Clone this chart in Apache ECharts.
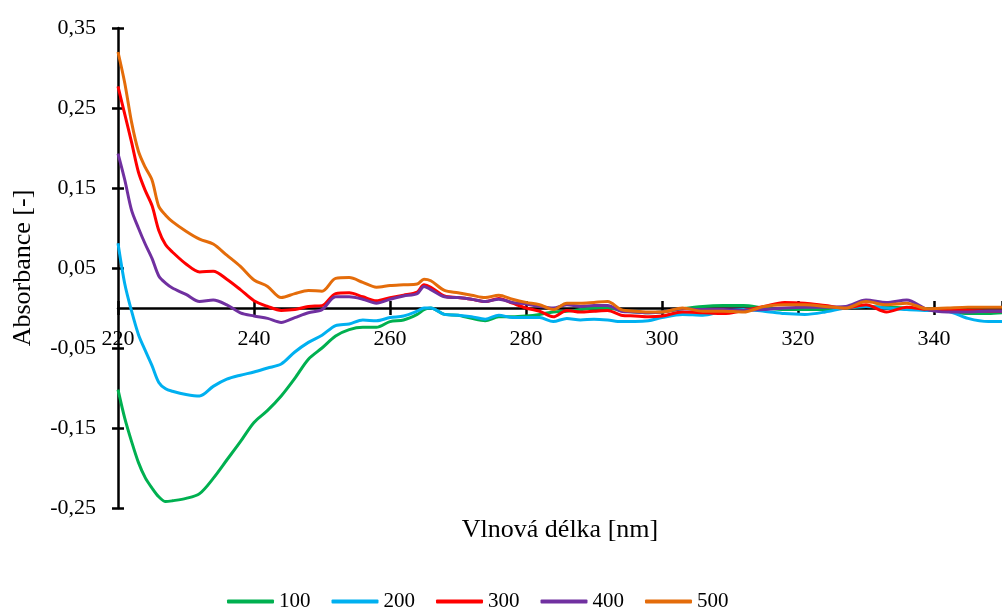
<!DOCTYPE html>
<html>
<head>
<meta charset="utf-8">
<script src="https://cdn.jsdelivr.net/npm/echarts@6/dist/echarts.min.js"></script>
<style>
html,body{margin:0;padding:0;background:#fff;}
#chart{width:1002px;height:610px;}
</style>
</head>
<body>
<div id="chart"></div>
<script>
const wavelengths = [220,221,222,223,224,225,226,227,228,230,232,234,236,238,240,242,244,246,248,250,252,254,256,258,260,262,264,265,266,268,270,272,274,276,278,280,282,284,286,288,290,292,294,296,298,300,303,306,309,312,315,318,321,324,327,330,333,336,339,342,345,348,350];

const s100 = [-0.102,-0.138,-0.167,-0.193,-0.212,-0.225,-0.236,-0.242,-0.241,-0.238,-0.232,-0.213,-0.190,-0.167,-0.143,-0.128,-0.110,-0.088,-0.064,-0.050,-0.035,-0.027,-0.024,-0.024,-0.017,-0.015,-0.008,-0.002,0.000,-0.008,-0.009,-0.013,-0.016,-0.011,-0.011,-0.010,-0.008,-0.005,-0.004,-0.002,0.000,0.000,-0.003,-0.005,-0.006,-0.005,-0.001,0.002,0.003,0.003,0.000,-0.002,-0.002,-0.002,0.000,0.002,0.001,0.000,-0.001,-0.004,-0.007,-0.007,-0.006];

const s200 = [0.081,0.030,-0.004,-0.033,-0.053,-0.072,-0.093,-0.101,-0.104,-0.108,-0.110,-0.098,-0.089,-0.084,-0.080,-0.075,-0.070,-0.055,-0.043,-0.034,-0.022,-0.020,-0.015,-0.016,-0.012,-0.010,-0.004,0.000,0.000,-0.008,-0.009,-0.011,-0.014,-0.009,-0.012,-0.012,-0.012,-0.017,-0.013,-0.015,-0.014,-0.015,-0.017,-0.017,-0.016,-0.012,-0.008,-0.009,-0.004,-0.002,-0.004,-0.007,-0.008,-0.005,0.000,0.002,0.000,-0.002,-0.003,-0.004,-0.013,-0.017,-0.017];

const s300 = [0.277,0.242,0.207,0.170,0.147,0.128,0.097,0.079,0.070,0.055,0.045,0.046,0.036,0.023,0.009,0.002,-0.003,-0.002,0.002,0.003,0.018,0.019,0.014,0.009,0.013,0.016,0.020,0.029,0.026,0.015,0.013,0.011,0.008,0.012,0.006,0.000,-0.004,-0.011,-0.003,-0.005,-0.004,-0.003,-0.009,-0.010,-0.011,-0.010,-0.005,-0.006,-0.007,-0.003,0.002,0.007,0.006,0.003,0.000,0.004,-0.005,0.001,-0.002,-0.003,-0.003,-0.004,-0.004];

const s400 = [0.193,0.160,0.122,0.100,0.080,0.062,0.040,0.031,0.025,0.017,0.008,0.010,0.004,-0.006,-0.010,-0.013,-0.018,-0.012,-0.006,-0.002,0.014,0.014,0.011,0.006,0.011,0.015,0.018,0.027,0.023,0.014,0.013,0.011,0.008,0.011,0.007,0.005,0.002,0.000,0.004,0.002,0.003,0.003,-0.004,-0.005,-0.006,-0.005,-0.001,-0.002,-0.002,-0.003,-0.002,0.000,0.001,0.001,0.002,0.010,0.007,0.010,-0.002,-0.005,-0.005,-0.004,-0.004];

const s500 = [0.320,0.281,0.232,0.196,0.176,0.160,0.127,0.116,0.108,0.096,0.086,0.080,0.066,0.052,0.035,0.027,0.013,0.018,0.022,0.021,0.037,0.038,0.032,0.026,0.028,0.029,0.030,0.036,0.034,0.022,0.019,0.016,0.013,0.016,0.011,0.007,0.004,-0.002,0.006,0.006,0.007,0.008,-0.002,-0.004,-0.005,-0.005,0.000,-0.004,-0.004,-0.005,0.002,0.004,0.004,0.002,0.000,0.008,0.004,0.006,-0.001,0.000,0.001,0.001,0.001];

const seriesNames = ['100','200','300','400','500'];
const seriesValues = [s100, s200, s300, s400, s500];
const seriesColors = ['#00B050','#00B0F0','#FF0000','#7030A0','#E46C0A'];

const xTitle = 'Vlnová délka [nm]';
const yTitle = 'Absorbance [-]';

const FONT = 'Liberation Serif';
const fmtY = v => (Math.round(v*100)/100).toFixed(2).replace('.', ',');

const chart = echarts.init(document.getElementById('chart'), null, {renderer:'canvas'});

const X_MIN = 220, X_MAX = 350, X_STEP = 20;
const Y_MIN = -0.25, Y_MAX = 0.35, Y_STEP = 0.1;
const axisLineStyle = {color:'#000', width:2.5};

chart.setOption({
  animation:false,
  backgroundColor:'#fff',
  textStyle:{fontFamily:FONT, color:'#000'},
  grid:[
    {left:118, right:0, top:28, bottom:102, containLabel:false, outerBoundsMode:'none'},
    {left:118, right:0, top:28, height:280, containLabel:false, outerBoundsMode:'none'}
  ],
  legend:{
    data:seriesNames,
    orient:'horizontal',
    left:222, top:586,
    icon:'roundRect',
    itemWidth:47, itemHeight:4, itemGap:21,
    textStyle:{fontFamily:FONT, fontSize:21, color:'#000'}
  },
  xAxis:[
    {type:'value', gridIndex:0, min:X_MIN, max:X_MAX, interval:X_STEP, show:false, splitLine:{show:false}},
    {type:'value', gridIndex:1, min:X_MIN, max:X_MAX, interval:X_STEP, position:'bottom',
      splitLine:{show:false},
      name:xTitle, nameLocation:'middle', nameGap:209,
      nameTextStyle:{fontFamily:FONT, fontSize:26, color:'#000'},
      axisLine:{show:true, onZero:false, lineStyle:axisLineStyle},
      axisTick:{show:true, inside:false, length:7, lineStyle:axisLineStyle},
      axisLabel:{show:true, margin:20, fontFamily:FONT, fontSize:22, color:'#000', showMaxLabel:false}
    },
    {type:'value', gridIndex:1, min:X_MIN, max:X_MAX, interval:X_STEP, position:'bottom',
      splitLine:{show:false},
      axisLine:{show:false, onZero:false},
      axisTick:{show:true, inside:true, length:7, lineStyle:axisLineStyle},
      axisLabel:{show:false}
    }
  ],
  yAxis:[
    {type:'value', gridIndex:0, min:Y_MIN, max:Y_MAX, interval:Y_STEP, position:'left',
      splitLine:{show:false},
      name:yTitle, nameLocation:'middle', nameGap:82,
      nameTextStyle:{fontFamily:FONT, fontSize:26, color:'#000'},
      axisLine:{show:true, onZero:false, lineStyle:axisLineStyle},
      axisTick:{show:true, inside:false, length:6, lineStyle:axisLineStyle},
      axisLabel:{show:true, margin:22, fontFamily:FONT, fontSize:22, color:'#000', formatter:fmtY}
    },
    {type:'value', gridIndex:1, min:0, max:Y_MAX, show:false, splitLine:{show:false}},
    {type:'value', gridIndex:0, min:Y_MIN, max:Y_MAX, interval:Y_STEP, position:'left',
      splitLine:{show:false},
      axisLine:{show:false, onZero:false},
      axisTick:{show:true, inside:true, length:6, lineStyle:axisLineStyle},
      axisLabel:{show:false}
    }
  ],
  series: seriesNames.map((n, i) => ({
    name:n,
    type:'line',
    xAxisIndex:0, yAxisIndex:0,
    symbol:'none',
    smooth:0.3,
    itemStyle:{color:seriesColors[i]},
    lineStyle:{color:seriesColors[i], width:3},
    data: wavelengths.map((w, j) => [w, seriesValues[i][j]])
  }))
});
</script>
</body>
</html>
